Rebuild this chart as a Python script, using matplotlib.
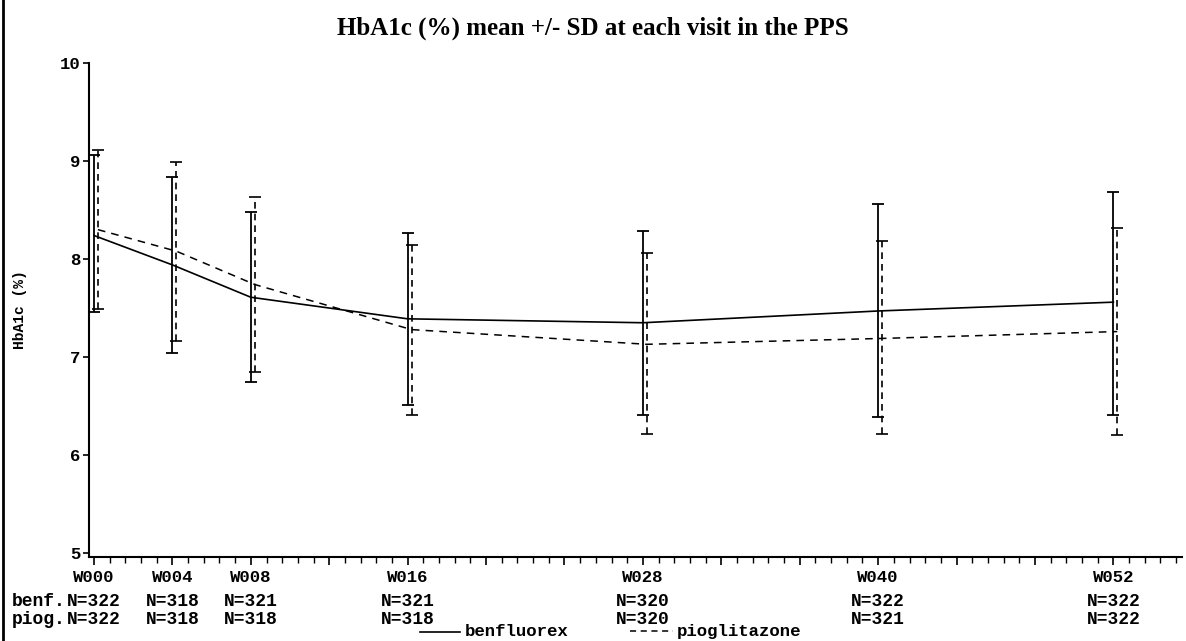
import matplotlib
matplotlib.use("Agg")
import matplotlib.pyplot as plt
from matplotlib.ticker import MultipleLocator, FixedLocator
from matplotlib.transforms import blended_transform_factory
from matplotlib.lines import Line2D

# visits (weeks) and labels
weeks = [0, 4, 8, 16, 28, 40, 52]
visit_labels = ["W000", "W004", "W008", "W016", "W028", "W040", "W052"]

# benfluorex: mean, mean-SD, mean+SD
benf_mean = [8.24, 7.94, 7.61, 7.39, 7.35, 7.47, 7.56]
benf_low = [7.46, 7.04, 6.75, 6.51, 6.41, 6.39, 6.41]
benf_high = [9.06, 8.84, 8.48, 8.27, 8.29, 8.56, 8.68]
benf_n = [322, 318, 321, 321, 320, 322, 322]

# pioglitazone
piog_mean = [8.30, 8.08, 7.74, 7.28, 7.13, 7.19, 7.26]
piog_low = [7.49, 7.16, 6.85, 6.41, 6.22, 6.22, 6.20]
piog_high = [9.11, 8.99, 8.63, 8.14, 8.06, 8.18, 8.32]
piog_n = [322, 318, 318, 318, 320, 321, 322]

mono = "Liberation Mono"
fig = plt.figure(figsize=(11.86, 6.41), dpi=100)
ax = fig.add_axes([89/1186, 1-557/641, (1182-89)/1186, (557-63)/641])

shift = 0.2  # pioglitazone drawn slightly to the right
piog_x = [w + shift for w in weeks]

ax.plot(weeks, benf_mean, color="black", lw=1.2, ls="-", clip_on=False)
ax.errorbar(weeks, benf_mean,
            yerr=[[m - l for m, l in zip(benf_mean, benf_low)],
                  [h - m for m, h in zip(benf_mean, benf_high)]],
            fmt="none", ecolor="black", elinewidth=1.3, capsize=4, capthick=1.3, clip_on=False)

ax.plot(piog_x, piog_mean, color="black", lw=1.1, ls=(0, (5, 4)), clip_on=False)
eb = ax.errorbar(piog_x, piog_mean,
                 yerr=[[m - l for m, l in zip(piog_mean, piog_low)],
                       [h - m for m, h in zip(piog_mean, piog_high)]],
                 fmt="none", ecolor="black", elinewidth=1.2, capsize=4, capthick=1.2, clip_on=False)
eb[2][0].set_linestyle((0, (4, 3)))

ax.set_xlim(-0.255, 55.5)
ax.set_ylim(4.96, 10)
for s in ["top", "right"]:
    ax.spines[s].set_visible(False)
ax.spines["left"].set_linewidth(1.5)
ax.spines["bottom"].set_linewidth(1.5)
ax.spines["left"].set_bounds(4.96, 10)

ax.yaxis.set_major_locator(FixedLocator([5, 6, 7, 8, 9, 10]))
ax.set_yticklabels(["5", "6", "7", "8", "9", "10"], fontfamily=mono, fontweight="bold", fontsize=12.5)
ax.tick_params(axis="y", length=4, width=1.2, pad=2)

ax.xaxis.set_major_locator(MultipleLocator(4))
ax.xaxis.set_minor_locator(MultipleLocator(0.8))
ax.set_xticklabels([])
ax.tick_params(axis="x", which="major", length=6, width=1.2)
ax.tick_params(axis="x", which="minor", length=4, width=1.0)

tr = blended_transform_factory(ax.transData, fig.transFigure)
for w, lab, nb, npio in zip(weeks, visit_labels, benf_n, piog_n):
    fig.text(w, 1-577/641, lab, transform=tr, ha="center", va="center",
             fontfamily=mono, fontweight="bold", fontsize=12.5)
    fig.text(w, 1-601/641, f"N={nb}", transform=tr, ha="center", va="center",
             fontfamily=mono, fontweight="bold", fontsize=13)
    fig.text(w, 1-619/641, f"N={npio}", transform=tr, ha="center", va="center",
             fontfamily=mono, fontweight="bold", fontsize=13)

fig.text(12/1186, 1-601/641, "benf.", ha="left", va="center",
         fontfamily=mono, fontweight="bold", fontsize=13)
fig.text(12/1186, 1-619/641, "piog.", ha="left", va="center",
         fontfamily=mono, fontweight="bold", fontsize=13)

ax.set_ylabel("HbA1c (%)", fontfamily=mono, fontweight="bold", fontsize=10.5, labelpad=24)

fig.suptitle("HbA1c (%) mean +/- SD at each visit in the PPS", x=0.5, y=1-28/641, va="center",
             fontfamily="Liberation Serif", fontweight="bold", fontsize=18)

# legend drawn at the bottom like the original
y_leg = 1-632/641
fig.add_artist(Line2D([420/1186, 460/1186], [y_leg, y_leg], color="black", lw=1.2))
fig.text(465/1186, 2/641, "benfluorex", ha="left", va="bottom",
         fontfamily=mono, fontweight="bold", fontsize=12.5)
fig.add_artist(Line2D([630/1186, 673/1186], [y_leg + 0.002, y_leg + 0.002], color="black", lw=1.1, ls=(0, (4, 3))))
fig.text(677/1186, 2/641, "pioglitazone", ha="left", va="bottom",
         fontfamily=mono, fontweight="bold", fontsize=12.5)

# left border of the frame
fig.add_artist(Line2D([3/1186, 3/1186], [0, 1], color="black", lw=2))

fig.savefig("out.png", dpi=100)
